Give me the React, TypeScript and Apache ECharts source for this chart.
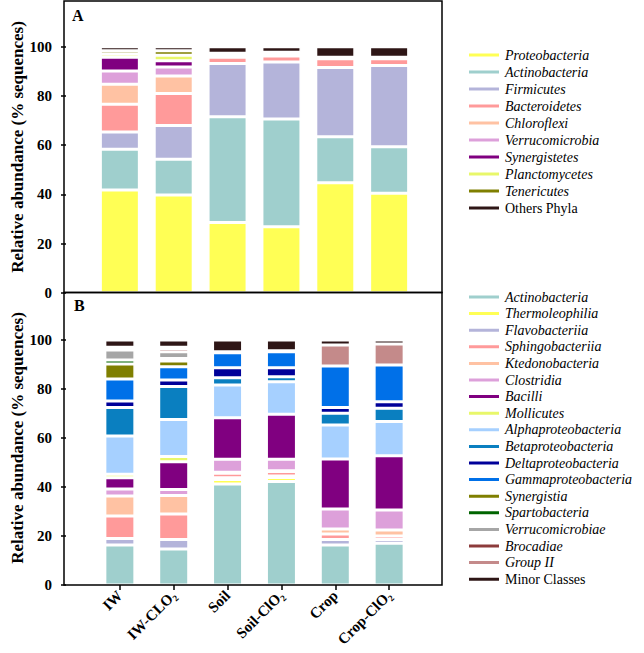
import React, { useEffect, useRef } from "react";
import * as echarts from "echarts";

const categories = ["IW", "IW-CLO₂", "Soil", "Soil-ClO₂", "Crop", "Crop-ClO₂"];

// Panel A: phyla
const phylaNames = ["Proteobacteria", "Actinobacteria", "Firmicutes", "Bacteroidetes", "Chloroflexi", "Verrucomicrobia", "Synergistetes", "Planctomycetes", "Tenericutes", "Others Phyla"];
const proteobacteria = [41.7, 39.7, 28.5, 26.8, 44.7, 40.4];
const actinobacteriaA = [16.6, 14.5, 43.0, 43.8, 18.7, 18.9];
const firmicutes = [7.0, 13.8, 21.7, 23.2, 28.1, 33.1];
const bacteroidetes = [11.3, 13.0, 2.5, 2.4, 3.6, 2.7];
const chloroflexi = [8.1, 7.1, 1.0, 1.0, 0.3, 0.6];
const verrucomicrobia = [5.4, 3.6, 0.3, 0.3, 0.3, 0];
const synergistetes = [5.6, 2.6, 0, 0, 0, 0];
const planctomycetes = [1.3, 2.2, 0.3, 0.2, 0, 0];
const tenericutes = [1.4, 1.9, 0, 0, 0, 0];
const othersPhyla = [1.6, 1.6, 2.7, 2.3, 4.3, 4.3];

// Panel B: classes
const classNames = ["Actinobacteria", "Thermoleophilia", "Flavobacteriia", "Sphingobacteriia", "Ktedonobacteria", "Clostridia", "Bacilli", "Mollicutes", "Alphaproteobacteria", "Betaproteobacteria", "Deltaproteobacteria", "Gammaproteobacteria", "Synergistia", "Spartobacteria", "Verrucomicrobiae", "Brocadiae", "Group II", "Minor Classes"];
const actinobacteriaB = [16.3, 14.7, 41.2, 42.2, 16.3, 17.0];
const thermoleophilia = [0, 0, 1.9, 1.7, 0, 0];
const flavobacteriia = [2.7, 3.9, 0.7, 0.6, 2.3, 1.6];
const sphingobacteriia = [9.2, 10.4, 1.8, 1.8, 2.2, 1.4];
const ktedonobacteria = [8.1, 7.5, 0.4, 0.3, 2.1, 2.4];
const clostridia = [2.9, 2.5, 5.3, 4.7, 8.1, 8.2];
const bacilli = [4.6, 11.3, 17.0, 18.4, 20.4, 22.2];
const mollicutes = [1.4, 2.1, 0, 0, 0, 0];
const alphaproteobacteria = [15.6, 15.2, 13.3, 13.3, 13.9, 13.9];
const betaproteobacteria = [11.6, 13.4, 3.0, 2.0, 4.8, 5.4];
const deltaproteobacteria = [2.7, 2.7, 4.1, 3.7, 2.3, 2.7];
const gammaproteobacteria = [9.0, 5.4, 6.1, 6.5, 17.0, 15.0];
const synergistia = [6.1, 2.3, 0, 0, 0, 0];
const spartobacteria = [1.6, 1.1, 0, 0, 0, 0];
const verrucomicrobiae = [4.1, 2.7, 0.2, 0.2, 0, 0];
const brocadiae = [0.6, 1.3, 0, 0, 0, 0];
const groupII = [0.5, 0.5, 0.2, 0.2, 8.6, 8.6];
const minorClasses = [3.0, 3.0, 4.8, 4.4, 2.0, 1.6];

const phylaValues = [proteobacteria, actinobacteriaA, firmicutes, bacteroidetes, chloroflexi, verrucomicrobia, synergistetes, planctomycetes, tenericutes, othersPhyla];
const classValues = [actinobacteriaB, thermoleophilia, flavobacteriia, sphingobacteriia, ktedonobacteria, clostridia, bacilli, mollicutes, alphaproteobacteria, betaproteobacteria, deltaproteobacteria, gammaproteobacteria, synergistia, spartobacteria, verrucomicrobiae, brocadiae, groupII, minorClasses];

const phylaColors = ["#FFFF55", "#9FCFCD", "#B4B4DA", "#FF9A9A", "#FFC2A3", "#DDA0DA", "#800080", "#E8F76A", "#7F7F00", "#2E1616"];
const classColors = ["#9FCFCD", "#FFFF55", "#B4B4DA", "#FF9A9A", "#FFC2A3", "#DDA0DA", "#800080", "#E8F76A", "#A6D0FF", "#0A7FC0", "#000099", "#0070E8", "#7F7F00", "#006400", "#A6A6A6", "#8C3B3B", "#C48A8A", "#2E1616"];

const SERIF = "'Liberation Serif', 'Times New Roman', serif";

export default function App() {
  const ref = useRef<HTMLDivElement>(null);
  useEffect(() => {
    if (!ref.current) return;
    const chart = echarts.init(ref.current, null, { renderer: "svg" });
    const axisCats = ["", ...categories, ""];
    const gridLeft = 66;
    const gridRight = 201;

    const mkSeries = (names: string[], vals: number[][], colors: string[], idx: number, width: number) =>
      names.map((n, i) => ({
        name: n,
        type: "bar",
        stack: "s" + idx,
        xAxisIndex: idx,
        yAxisIndex: idx,
        barWidth: width,
        data: [null, ...vals[i]],
        itemStyle: { color: colors[i], borderColor: "#ffffff", borderWidth: 1.5 },
        emphasis: { disabled: true },
      }));

    const yAxisBase = (idx: number) => ({
      type: "value",
      gridIndex: idx,
      min: 0,
      max: 100,
      interval: 20,
      axisLine: { show: false },
      axisTick: { show: true, length: 5, lineStyle: { color: "#000", width: 1.5 } },
      splitLine: { show: false },
      axisLabel: { color: "#000", fontFamily: SERIF, fontWeight: "bold", fontSize: 15, margin: 14 },
    });

    const legendFmt = (name: string) =>
      name === "Others Phyla" || name === "Minor Classes" ? `{n|${name}}` : `{i|${name}}`;
    const legendText = {
      color: "#000",
      rich: {
        i: { fontFamily: SERIF, fontStyle: "italic", fontSize: 14, lineHeight: 14, color: "#000" },
        n: { fontFamily: SERIF, fontSize: 14, lineHeight: 14, color: "#000" },
      },
    };

    chart.setOption({
      animation: false,
      grid: [
        { left: gridLeft, right: gridRight, top: 46.7, bottom: 653 - 292.7 },
        { left: gridLeft, right: gridRight, top: 340, bottom: 653 - 585 },
      ],
      xAxis: [
        {
          type: "category",
          gridIndex: 0,
          data: axisCats,
          boundaryGap: false,
          axisLine: { show: false },
          axisTick: { show: false },
          axisLabel: { show: false },
        },
        {
          type: "category",
          gridIndex: 1,
          data: axisCats,
          boundaryGap: false,
          axisLine: { show: false },
          axisTick: {
            show: true,
            length: 5,
            interval: (i: number) => i > 0 && i < axisCats.length - 1,
            lineStyle: { color: "#000", width: 1.5 },
          },
          axisLabel: {
            interval: 0,
            rotate: 45,
            margin: 8,
            color: "#000",
            fontFamily: SERIF,
            fontWeight: "bold",
            fontSize: 15,
          },
        },
      ],
      yAxis: [yAxisBase(0), yAxisBase(1)],
      legend: [
        {
          data: phylaNames,
          orient: "vertical",
          left: 462,
          top: 43,
          itemWidth: 32,
          itemHeight: 5,
          itemGap: 3,
          icon: "rect",
          selectedMode: false,
          formatter: legendFmt,
          textStyle: legendText,
        },
        {
          data: classNames,
          orient: "vertical",
          left: 462,
          top: 285,
          itemWidth: 32,
          itemHeight: 5,
          itemGap: 2.6,
          icon: "rect",
          selectedMode: false,
          formatter: legendFmt,
          textStyle: legendText,
        },
      ],
      graphic: [
        { type: "rect", shape: { x: 64, y: 1, width: 378, height: 291.5 }, style: { fill: "none", stroke: "#000", lineWidth: 1.5 }, silent: true, z: 100 },
        { type: "rect", shape: { x: 64, y: 292.5, width: 378, height: 292.5 }, style: { fill: "none", stroke: "#000", lineWidth: 1.5 }, silent: true, z: 100 },
        { type: "text", left: 72, top: 7, style: { text: "A", font: `bold 16px ${SERIF}`, fill: "#000" } },
        { type: "text", left: 74, top: 297, style: { text: "B", font: `bold 16px ${SERIF}`, fill: "#000" } },
        { type: "text", x: 17, y: 147, rotation: Math.PI / 2, style: { text: "Relative abundance (% sequences)", font: `bold 17px ${SERIF}`, fill: "#000", align: "center", verticalAlign: "middle" } },
        { type: "text", x: 17, y: 438, rotation: Math.PI / 2, style: { text: "Relative abundance (% sequences)", font: `bold 17px ${SERIF}`, fill: "#000", align: "center", verticalAlign: "middle" } },
      ],
      series: [
        ...mkSeries(phylaNames, phylaValues, phylaColors, 0, 39),
        ...mkSeries(classNames, classValues, classColors, 1, 30),
      ],
    });
    return () => chart.dispose();
  }, []);
  return <div ref={ref} style={{ width: 644, height: 653, position: "absolute", left: 0, top: 0 }} />;
}
